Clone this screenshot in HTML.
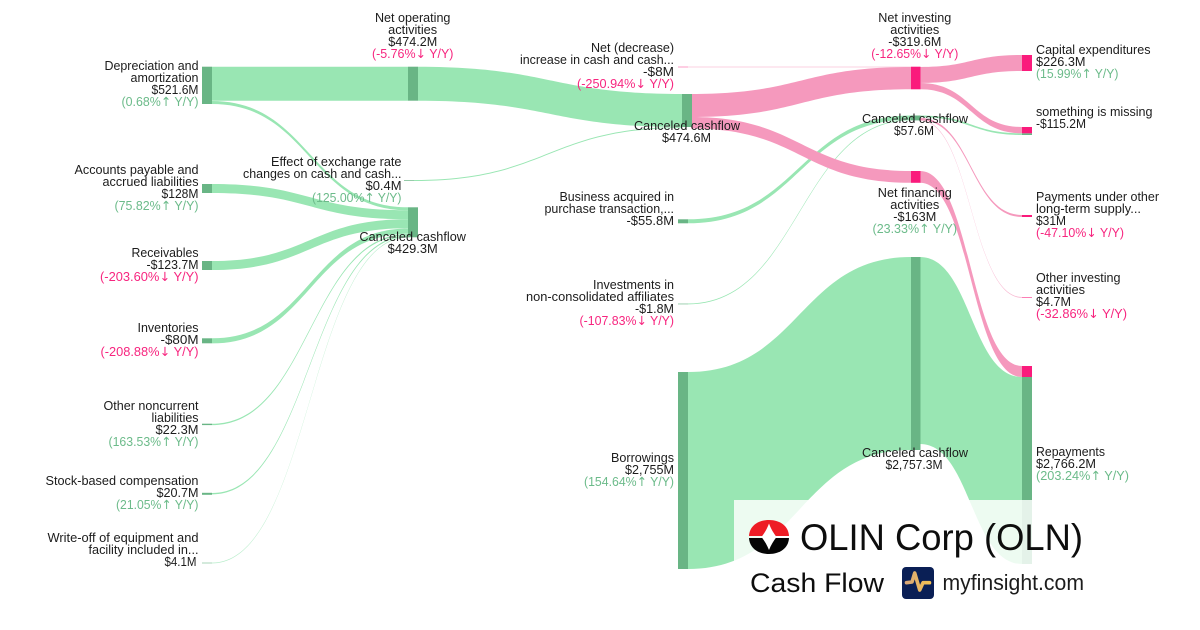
<!DOCTYPE html>
<html><head><meta charset="utf-8"><style>
html,body{margin:0;padding:0;background:#fff}
svg{display:block}
text{font-family:"Liberation Sans",sans-serif;font-size:12.6px;fill:#1c1c1c}
.e{text-anchor:end}.m{text-anchor:middle}
.g{fill:#6cbb8a}.p{fill:#f7257f}
.a{font-family:"DejaVu Sans",sans-serif}
.fg{fill:#99e6b3}.fp{fill:#f599bd}.ng{fill:#69b585}.np{fill:#fa1b7c}
</style></head><body>
<svg width="1200" height="630" viewBox="0 0 1200 630" xmlns="http://www.w3.org/2000/svg">
<defs><linearGradient id="lg" x1="0" x2="1" y1="0" y2="0"><stop offset="0" stop-color="#d9a878"/><stop offset="1" stop-color="#f4c152"/></linearGradient></defs>
<rect width="1200" height="630" fill="#fff"/>
<!-- flows -->
<g class="fg">
<path d="M212 66.7C310 66.7 310 66.7 408 66.7L408 100.7C310 100.7 310 100.7 212 100.7Z"/>
<path d="M212 101C310 101 310 207.3 408 207.3L408 210.3C310 210.3 310 104 212 104Z"/>
<path d="M212 184C310 184 310 210.3 408 210.3L408 219.3C310 219.3 310 193 212 193Z"/>
<path d="M212 261C310 261 310 219.3 408 219.3L408 228.3C310 228.3 310 270 212 270Z"/>
<path d="M212 338.3C310 338.3 310 228.5 408 228.5L408 233.8C310 233.8 310 343.4 212 343.4Z"/>
<path d="M212 423.7C310 423.7 310 234 408 234L408 235.4C310 235.4 310 425.1 212 425.1Z"/>
<path d="M212 493C310 493 310 235.5 408 235.5L408 236.8C310 236.8 310 494.4 212 494.4Z"/>
<path opacity=".7" d="M212 562.6C310 562.6 310 236.8 408 236.8L408 237.6C310 237.6 310 563.4 212 563.4Z"/>
<path d="M418 66.7C550 66.7 550 94 682 94L682 127C550 127 550 100.7 418 100.7Z"/>
<path d="M414 180C548 180 548 127.1 682 127.1L682 128.1C548 128.1 548 181 414 181Z"/>
<path d="M688 219.3C799.5 219.3 799.5 115.5 911 115.5L911 119.5C799.5 119.5 799.5 223.3 688 223.3Z"/>
<path d="M688 303.5C799.5 303.5 799.5 119.5 911 119.5L911 120.4C799.5 120.4 799.5 304.4 688 304.4Z"/>
<path d="M688 372C799.5 372 799.5 257 911 257L911 450C799.5 450 799.5 569 688 569Z"/>
<path d="M920 257C971 257 971 377 1022 377L1022 564C971 564 971 444 920 444Z"/>
<path d="M920 115.5C971 115.5 971 133.3 1022 133.3L1022 135C971 135 971 117.2 920 117.2Z"/>
</g>
<g class="fp">
<path opacity=".35" d="M688 66.4C799.5 66.4 799.5 66.4 911 66.4L911 67.6C799.5 67.6 799.5 67.6 688 67.6Z"/>
<path d="M691 94C801.5 94 801.5 67 911 67L911 89.3C801.5 89.3 801.5 117 691 117Z"/>
<path d="M691 117C801.5 117 801.5 171 911 171L911 182.8C801.5 182.8 801.5 128.5 691 128.5Z"/>
<path d="M920 67C971 67 971 55 1022 55L1022 71C971 71 971 83 920 83Z"/>
<path d="M920 83C971 83 971 127 1022 127L1022 133.3C971 133.3 971 89.3 920 89.3Z"/>
<path d="M920 118C971 118 971 215 1022 215L1022 217C971 217 971 120 920 120Z"/>
<path opacity=".7" d="M920 120C971 120 971 297 1022 297L1022 297.8C971 297.8 971 120.8 920 120.8Z"/>
<path d="M920 171C971 171 971 366 1022 366L1022 377C971 377 971 182.8 920 182.8Z"/>
</g>
<!-- nodes -->
<g class="ng">
<rect x="202" y="66.7" width="10" height="37.3"/>
<rect x="202" y="184" width="10" height="9"/>
<rect x="202" y="261" width="10" height="9"/>
<rect x="202" y="338.3" width="10" height="5"/>
<rect x="202" y="423.7" width="10" height="1.4"/>
<rect x="202" y="492.8" width="10" height="2"/>
<rect x="202" y="562.6" width="10" height=".8" opacity=".7"/>
<rect x="408" y="66.7" width="10" height="34"/>
<rect x="408" y="207.3" width="10" height="30"/>
<rect x="404" y="180" width="10" height="1" opacity=".7"/>
<rect x="682" y="94" width="10" height="33"/>
<rect x="678" y="219.3" width="10" height="4"/>
<rect x="678" y="303.5" width="10" height=".9" opacity=".7"/>
<rect x="678" y="372" width="10" height="197"/>
<rect x="911" y="115.5" width="9.5" height="4.9"/>
<rect x="911" y="257" width="9.5" height="193"/>
<rect x="1022" y="133.3" width="10" height="1.7"/>
<rect x="1022" y="377" width="10" height="187"/>
</g>
<g class="np">
<rect x="678" y="66.4" width="10" height="1.2" opacity=".35"/>
<rect x="911" y="66.7" width="9.5" height="22.6"/>
<rect x="911" y="171" width="9.5" height="11.8"/>
<rect x="1022" y="55" width="10" height="16"/>
<rect x="1022" y="127" width="10" height="6.3"/>
<rect x="1022" y="215" width="10" height="2"/>
<rect x="1022" y="297" width="10" height=".8" opacity=".7"/>
<rect x="1022" y="366" width="10" height="11"/>
</g>
<!-- labels left -->
<g>
<text x="198.5" y="70" class="e" textLength="94" lengthAdjust="spacingAndGlyphs">Depreciation and</text>
<text x="198.5" y="82" class="e" textLength="68" lengthAdjust="spacingAndGlyphs">amortization</text>
<text x="198.5" y="94" class="e" textLength="47" lengthAdjust="spacingAndGlyphs">$521.6M</text>
<text x="198.5" y="106" class="e g" textLength="77" lengthAdjust="spacingAndGlyphs">(0.68%<tspan class="a">↑</tspan> Y/Y)</text>
<text x="198.5" y="174" class="e" textLength="124" lengthAdjust="spacingAndGlyphs">Accounts payable and</text>
<text x="198.5" y="186" class="e" textLength="96" lengthAdjust="spacingAndGlyphs">accrued liabilities</text>
<text x="198.5" y="198" class="e" textLength="37" lengthAdjust="spacingAndGlyphs">$128M</text>
<text x="198.5" y="210" class="e g" textLength="84" lengthAdjust="spacingAndGlyphs">(75.82%<tspan class="a">↑</tspan> Y/Y)</text>
<text x="198.5" y="257" class="e" textLength="67" lengthAdjust="spacingAndGlyphs">Receivables</text>
<text x="198.5" y="269" class="e" textLength="52" lengthAdjust="spacingAndGlyphs">-$123.7M</text>
<text x="198.5" y="281" class="e p" textLength="98.5" lengthAdjust="spacingAndGlyphs">(-203.60%<tspan class="a">↓</tspan> Y/Y)</text>
<text x="198.5" y="332" class="e" textLength="61" lengthAdjust="spacingAndGlyphs">Inventories</text>
<text x="198.5" y="344" class="e" textLength="38" lengthAdjust="spacingAndGlyphs">-$80M</text>
<text x="198.5" y="356" class="e p" textLength="98" lengthAdjust="spacingAndGlyphs">(-208.88%<tspan class="a">↓</tspan> Y/Y)</text>
<text x="198.5" y="410" class="e" textLength="95" lengthAdjust="spacingAndGlyphs">Other noncurrent</text>
<text x="198.5" y="422" class="e" textLength="47" lengthAdjust="spacingAndGlyphs">liabilities</text>
<text x="198.5" y="434" class="e" textLength="43" lengthAdjust="spacingAndGlyphs">$22.3M</text>
<text x="198.5" y="446" class="e g" textLength="90" lengthAdjust="spacingAndGlyphs">(163.53%<tspan class="a">↑</tspan> Y/Y)</text>
<text x="198.5" y="485" class="e" textLength="153" lengthAdjust="spacingAndGlyphs">Stock-based compensation</text>
<text x="198.5" y="497" class="e" textLength="42" lengthAdjust="spacingAndGlyphs">$20.7M</text>
<text x="198.5" y="509" class="e g" textLength="82.5" lengthAdjust="spacingAndGlyphs">(21.05%<tspan class="a">↑</tspan> Y/Y)</text>
<text x="198.5" y="542" class="e" textLength="151" lengthAdjust="spacingAndGlyphs">Write-off of equipment and</text>
<text x="198.5" y="554" class="e" textLength="110" lengthAdjust="spacingAndGlyphs">facility included in...</text>
<text x="196.5" y="566" class="e" textLength="32" lengthAdjust="spacingAndGlyphs">$4.1M</text>
<text x="401.5" y="166" class="e" textLength="130.5" lengthAdjust="spacingAndGlyphs">Effect of exchange rate</text>
<text x="401.5" y="178" class="e" textLength="158.5" lengthAdjust="spacingAndGlyphs">changes on cash and cash...</text>
<text x="401.5" y="190" class="e" textLength="36" lengthAdjust="spacingAndGlyphs">$0.4M</text>
<text x="401.5" y="202" class="e g" textLength="89.5" lengthAdjust="spacingAndGlyphs">(125.00%<tspan class="a">↑</tspan> Y/Y)</text>
<text x="674" y="52" class="e" textLength="83" lengthAdjust="spacingAndGlyphs">Net (decrease)</text>
<text x="674" y="64" class="e" textLength="154" lengthAdjust="spacingAndGlyphs">increase in cash and cash...</text>
<text x="674" y="76" class="e" textLength="31" lengthAdjust="spacingAndGlyphs">-$8M</text>
<text x="674" y="88" class="e p" textLength="97" lengthAdjust="spacingAndGlyphs">(-250.94%<tspan class="a">↓</tspan> Y/Y)</text>
<text x="674" y="201" class="e" textLength="114.5" lengthAdjust="spacingAndGlyphs">Business acquired in</text>
<text x="674" y="213" class="e" textLength="129.5" lengthAdjust="spacingAndGlyphs">purchase transaction,...</text>
<text x="674" y="225" class="e" textLength="47.5" lengthAdjust="spacingAndGlyphs">-$55.8M</text>
<text x="674" y="289" class="e" textLength="81" lengthAdjust="spacingAndGlyphs">Investments in</text>
<text x="674" y="301" class="e" textLength="148" lengthAdjust="spacingAndGlyphs">non-consolidated affiliates</text>
<text x="674" y="313" class="e" textLength="39" lengthAdjust="spacingAndGlyphs">-$1.8M</text>
<text x="674" y="325" class="e p" textLength="94.5" lengthAdjust="spacingAndGlyphs">(-107.83%<tspan class="a">↓</tspan> Y/Y)</text>
<text x="674" y="462" class="e" textLength="63" lengthAdjust="spacingAndGlyphs">Borrowings</text>
<text x="674" y="474" class="e" textLength="49" lengthAdjust="spacingAndGlyphs">$2,755M</text>
<text x="674" y="486" class="e g" textLength="90" lengthAdjust="spacingAndGlyphs">(154.64%<tspan class="a">↑</tspan> Y/Y)</text>
</g>
<!-- centered -->
<text x="412.7" y="22" class="m" textLength="75.5" lengthAdjust="spacingAndGlyphs">Net operating</text>
<text x="412.7" y="34" class="m" textLength="49" lengthAdjust="spacingAndGlyphs">activities</text>
<text x="412.7" y="46" class="m" textLength="49" lengthAdjust="spacingAndGlyphs">$474.2M</text>
<text x="412.7" y="58" class="m p" textLength="81.5" lengthAdjust="spacingAndGlyphs">(-5.76%<tspan class="a">↓</tspan> Y/Y)</text>
<text x="412.7" y="241" class="m" textLength="106.5" lengthAdjust="spacingAndGlyphs">Canceled cashflow</text>
<text x="412.7" y="253" class="m" textLength="50" lengthAdjust="spacingAndGlyphs">$429.3M</text>
<text x="687" y="130" class="m" textLength="106" lengthAdjust="spacingAndGlyphs">Canceled cashflow</text>
<text x="686.5" y="142" class="m" textLength="49" lengthAdjust="spacingAndGlyphs">$474.6M</text>
<text x="914.8" y="22" class="m" textLength="73" lengthAdjust="spacingAndGlyphs">Net investing</text>
<text x="914.8" y="34" class="m" textLength="49" lengthAdjust="spacingAndGlyphs">activities</text>
<text x="914.8" y="46" class="m" textLength="53" lengthAdjust="spacingAndGlyphs">-$319.6M</text>
<text x="914.8" y="58" class="m p" textLength="87" lengthAdjust="spacingAndGlyphs">(-12.65%<tspan class="a">↓</tspan> Y/Y)</text>
<text x="915" y="123" class="m" textLength="106" lengthAdjust="spacingAndGlyphs">Canceled cashflow</text>
<text x="914" y="135" class="m" textLength="40" lengthAdjust="spacingAndGlyphs">$57.6M</text>
<text x="914.8" y="197" class="m" textLength="74" lengthAdjust="spacingAndGlyphs">Net financing</text>
<text x="914.8" y="209" class="m" textLength="49" lengthAdjust="spacingAndGlyphs">activities</text>
<text x="914.8" y="221" class="m" textLength="43" lengthAdjust="spacingAndGlyphs">-$163M</text>
<text x="914.8" y="233" class="m g" textLength="84.5" lengthAdjust="spacingAndGlyphs">(23.33%<tspan class="a">↑</tspan> Y/Y)</text>
<text x="915" y="457" class="m" textLength="106" lengthAdjust="spacingAndGlyphs">Canceled cashflow</text>
<text x="914" y="469" class="m" textLength="57" lengthAdjust="spacingAndGlyphs">$2,757.3M</text>
<!-- right -->
<text x="1036" y="54" textLength="114.5" lengthAdjust="spacingAndGlyphs">Capital expenditures</text>
<text x="1036" y="66" textLength="49.5" lengthAdjust="spacingAndGlyphs">$226.3M</text>
<text x="1036" y="78" class="g" textLength="82.5" lengthAdjust="spacingAndGlyphs">(15.99%<tspan class="a">↑</tspan> Y/Y)</text>
<text x="1036" y="116" textLength="116.5" lengthAdjust="spacingAndGlyphs">something is missing</text>
<text x="1036" y="128" textLength="50" lengthAdjust="spacingAndGlyphs">-$115.2M</text>
<text x="1036" y="201" textLength="123" lengthAdjust="spacingAndGlyphs">Payments under other</text>
<text x="1036" y="213" textLength="105" lengthAdjust="spacingAndGlyphs">long-term supply...</text>
<text x="1036" y="225" textLength="30" lengthAdjust="spacingAndGlyphs">$31M</text>
<text x="1036" y="237" class="p" textLength="88" lengthAdjust="spacingAndGlyphs">(-47.10%<tspan class="a">↓</tspan> Y/Y)</text>
<text x="1036" y="282" textLength="84.5" lengthAdjust="spacingAndGlyphs">Other investing</text>
<text x="1036" y="294" textLength="49" lengthAdjust="spacingAndGlyphs">activities</text>
<text x="1036" y="306" textLength="35" lengthAdjust="spacingAndGlyphs">$4.7M</text>
<text x="1036" y="318" class="p" textLength="91" lengthAdjust="spacingAndGlyphs">(-32.86%<tspan class="a">↓</tspan> Y/Y)</text>
<text x="1036" y="456" textLength="69" lengthAdjust="spacingAndGlyphs">Repayments</text>
<text x="1036" y="468" textLength="60" lengthAdjust="spacingAndGlyphs">$2,766.2M</text>
<text x="1036" y="480" class="g" textLength="93" lengthAdjust="spacingAndGlyphs">(203.24%<tspan class="a">↑</tspan> Y/Y)</text>
<!-- branding panel -->
<rect x="734" y="500" width="366" height="130" fill="#fff" fill-opacity=".82"/>
<path d="M749 536C749.5 526 758 520 769 520C780 520 788.5 526 789 536Z" fill="#ee1c25"/>
<path d="M749 538C749.5 548 758 554 769 554C780 554 788.5 548 789 538Z" fill="#050505"/>
<path d="M769 523.5C771 529 773.5 533 776.5 537C773.5 541 771 545 769 550C767 545 764.5 541 761.5 537C764.5 533 767 529 769 523.5Z" fill="#fff"/>
<text x="800" y="550" style="font-size:37px;fill:#0d0d0d" textLength="283" lengthAdjust="spacingAndGlyphs">OLIN Corp (OLN)</text>
<text x="750" y="592" style="font-size:27px;fill:#0d0d0d" textLength="134" lengthAdjust="spacingAndGlyphs">Cash Flow</text>
<rect x="902" y="567" width="32" height="32" rx="4" fill="#0a1f55"/>
<polyline points="906.5,582.7 912,582 914.7,573 919.7,590 923,582.7 929.5,582.7" fill="none" stroke="url(#lg)" stroke-width="3.6" stroke-linejoin="round" stroke-linecap="round"/>
<text x="942.5" y="590" style="font-size:22.5px;fill:#1c1c1c" textLength="141.5" lengthAdjust="spacingAndGlyphs">myfinsight.com</text>
</svg>
</body></html>
